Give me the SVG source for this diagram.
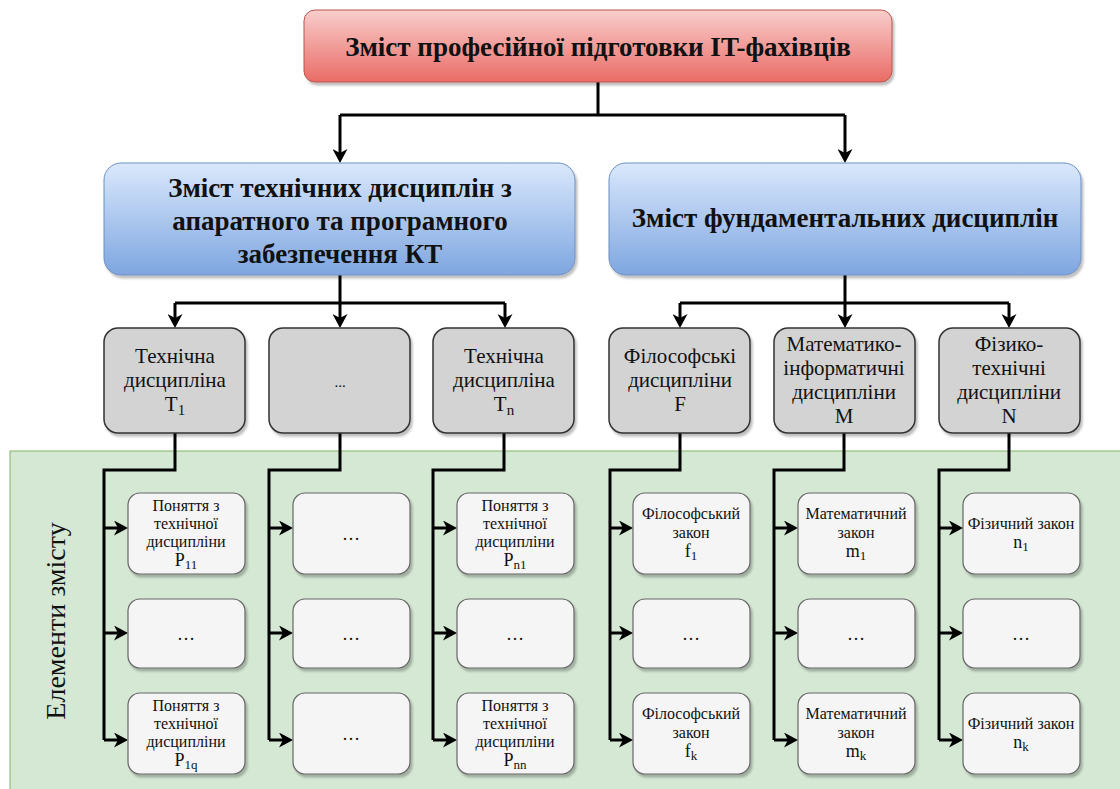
<svg xmlns="http://www.w3.org/2000/svg" width="1120" height="789" viewBox="0 0 1120 789">
<defs>
<linearGradient id="red" x1="0" y1="0" x2="0" y2="1"><stop offset="0" stop-color="#f8cecc"/><stop offset="1" stop-color="#ea6b66"/></linearGradient>
<linearGradient id="blue" x1="0" y1="0" x2="0" y2="1"><stop offset="0" stop-color="#dae8fc"/><stop offset="1" stop-color="#7ea6e0"/></linearGradient>
<filter id="sh" x="-10%" y="-10%" width="130%" height="130%"><feDropShadow dx="2" dy="3" stdDeviation="1.2" flood-color="#000" flood-opacity="0.25"/></filter>
<marker id="arr" markerUnits="userSpaceOnUse" markerWidth="14" markerHeight="15" viewBox="0 0 14 15" refX="4" refY="7.5" orient="auto"><path d="M0,0 L14,7.5 L0,15 L4,7.5 Z" fill="#000"/></marker>
<rect id="gbox" width="141" height="105" rx="14" fill="#d3d3d3" stroke="#333333" stroke-width="1.5" filter="url(#sh)"/>
<rect id="lbox" width="117" height="81" rx="12" fill="#f5f5f5" stroke="#666666" stroke-width="1.2" filter="url(#sh)"/>
<rect id="lboxm" width="117" height="69" rx="12" fill="#f5f5f5" stroke="#666666" stroke-width="1.2" filter="url(#sh)"/>
</defs>
<g id="zone">
<rect x="10" y="451" width="1120" height="350" fill="#d5e8d4" stroke="#82b366" stroke-width="1"/>
<text font-family="'Liberation Serif', serif" font-size="28" fill="#111" text-anchor="middle" transform="translate(65,621) rotate(-90)">Елементи змісту</text>
</g>
<g id="connectors" fill="none" stroke="#000" stroke-width="3">
<path d="M598,82 V115 M340,115 H845"/>
<path d="M340,115 V153" marker-end="url(#arr)"/>
<path d="M845,115 V153" marker-end="url(#arr)"/>
<path d="M340,275 V303 M175,303 H505 M680,303 H1009 M845,275 V303"/>
<g marker-end="url(#arr)">
<path d="M175,303 V318"/><path d="M340,303 V318"/><path d="M505,303 V318"/>
<path d="M680,303 V318"/><path d="M845,303 V318"/><path d="M1009,303 V318"/>
</g>
<path d="M175,433 V470 H104 V740"/>
<path d="M340,433 V470 H269 V740"/>
<path d="M504,433 V470 H433 V740"/>
<path d="M680,433 V470 H610 V740"/>
<path d="M844,433 V470 H774 V740"/>
<path d="M1009,433 V470 H939 V740"/>
<g marker-end="url(#arr)">
<path d="M104,528 H118"/><path d="M104,633 H118"/><path d="M104,740 H118"/>
<path d="M269,528 H283"/><path d="M269,633 H283"/><path d="M269,740 H283"/>
<path d="M433,528 H447"/><path d="M433,633 H447"/><path d="M433,740 H447"/>
<path d="M610,528 H623"/><path d="M610,633 H623"/><path d="M610,740 H623"/>
<path d="M774,528 H788"/><path d="M774,633 H788"/><path d="M774,740 H788"/>
<path d="M939,528 H953"/><path d="M939,633 H953"/><path d="M939,740 H953"/>
</g>
</g>
<g id="nodes" font-family="'Liberation Serif', serif" fill="#111" text-anchor="middle">
<g id="root" font-weight="bold" font-size="27">
<rect x="304" y="10" width="588" height="72" rx="11" fill="url(#red)" stroke="#b85450" stroke-width="1" filter="url(#sh)"/>
<text x="598" y="56">Зміст професійної підготовки IT-фахівців</text>
</g>
<g id="tech" font-weight="bold" font-size="27">
<rect x="104" y="163" width="471" height="112" rx="17" fill="url(#blue)" stroke="#6c8ebf" stroke-width="1" filter="url(#sh)"/>
<text x="340" y="197">Зміст технічних дисциплін з</text>
<text x="340" y="230">апаратного та програмного</text>
<text x="340" y="263">забезпечення КТ</text>
</g>
<g id="fund" font-weight="bold" font-size="27">
<rect x="609" y="163" width="472" height="112" rx="17" fill="url(#blue)" stroke="#6c8ebf" stroke-width="1" filter="url(#sh)"/>
<text x="845" y="227">Зміст фундаментальних дисциплін</text>
</g>
<g id="t1" font-size="21">
<use href="#gbox" x="104" y="328"/>
<text x="175" y="363">Технічна</text>
<text x="175" y="387">дисципліна</text>
<text x="175" y="411">T<tspan font-size="15" dy="4">1</tspan></text>
</g>
<g id="tdots" font-size="15">
<use href="#gbox" x="269" y="328"/>
<text x="340" y="387">...</text>
</g>
<g id="tn" font-size="21">
<use href="#gbox" x="433" y="328"/>
<text x="504" y="363">Технічна</text>
<text x="504" y="387">дисципліна</text>
<text x="504" y="411">T<tspan font-size="15" dy="4">n</tspan></text>
</g>
<g id="f" font-size="21">
<use href="#gbox" x="609" y="328"/>
<text x="680" y="363">Філософські</text>
<text x="680" y="387">дисципліни</text>
<text x="680" y="411">F</text>
</g>
<g id="m" font-size="21">
<use href="#gbox" x="774" y="328"/>
<text x="844" y="351">Математико-</text>
<text x="844" y="375">інформатичні</text>
<text x="844" y="399">дисципліни</text>
<text x="844" y="423">M</text>
</g>
<g id="n" font-size="21">
<use href="#gbox" x="939" y="328"/>
<text x="1009" y="351">Фізико-</text>
<text x="1009" y="375">технічні</text>
<text x="1009" y="399">дисципліни</text>
<text x="1009" y="423">N</text>
</g>
<g id="p11" font-size="16">
<use href="#lbox" x="128" y="493"/>
<text x="186" y="511">Поняття з</text>
<text x="186" y="529">технічної</text>
<text x="186" y="547">дисципліни</text>
<text x="186" y="566" font-size="18">P<tspan font-size="13" dy="3">11</tspan></text>
</g>
<g id="p1dots" font-size="18">
<use href="#lboxm" x="128" y="599"/>
<text x="186" y="640">…</text>
</g>
<g id="p1q" font-size="16">
<use href="#lbox" x="128" y="693"/>
<text x="186" y="711">Поняття з</text>
<text x="186" y="729">технічної</text>
<text x="186" y="747">дисципліни</text>
<text x="186" y="766" font-size="18">P<tspan font-size="13" dy="3">1q</tspan></text>
</g>
<g id="c2r1" font-size="18">
<use href="#lbox" x="293" y="493"/>
<text x="351" y="540">…</text>
</g>
<g id="c2r2" font-size="18">
<use href="#lboxm" x="293" y="599"/>
<text x="351" y="640">…</text>
</g>
<g id="c2r3" font-size="18">
<use href="#lbox" x="293" y="693"/>
<text x="351" y="740">…</text>
</g>
<g id="pn1" font-size="16">
<use href="#lbox" x="457" y="493"/>
<text x="515" y="511">Поняття з</text>
<text x="515" y="529">технічної</text>
<text x="515" y="547">дисципліни</text>
<text x="515" y="566" font-size="18">P<tspan font-size="13" dy="3">n1</tspan></text>
</g>
<g id="pndots" font-size="18">
<use href="#lboxm" x="457" y="599"/>
<text x="515" y="640">…</text>
</g>
<g id="pnn" font-size="16">
<use href="#lbox" x="457" y="693"/>
<text x="515" y="711">Поняття з</text>
<text x="515" y="729">технічної</text>
<text x="515" y="747">дисципліни</text>
<text x="515" y="766" font-size="18">P<tspan font-size="13" dy="3">nn</tspan></text>
</g>
<g id="f1" font-size="16">
<use href="#lbox" x="633" y="493"/>
<text x="691" y="519">Філософський</text>
<text x="691" y="538">закон</text>
<text x="691" y="557" font-size="18">f<tspan font-size="13" dy="3">1</tspan></text>
</g>
<g id="fdots" font-size="18">
<use href="#lboxm" x="633" y="599"/>
<text x="691" y="640">…</text>
</g>
<g id="fk" font-size="16">
<use href="#lbox" x="633" y="693"/>
<text x="691" y="719">Філософський</text>
<text x="691" y="738">закон</text>
<text x="691" y="757" font-size="18">f<tspan font-size="13" dy="3">k</tspan></text>
</g>
<g id="m1" font-size="16">
<use href="#lbox" x="798" y="493"/>
<text x="856" y="519">Математичний</text>
<text x="856" y="538">закон</text>
<text x="856" y="557" font-size="18">m<tspan font-size="13" dy="3">1</tspan></text>
</g>
<g id="mdots" font-size="18">
<use href="#lboxm" x="798" y="599"/>
<text x="856" y="640">…</text>
</g>
<g id="mk" font-size="16">
<use href="#lbox" x="798" y="693"/>
<text x="856" y="719">Математичний</text>
<text x="856" y="738">закон</text>
<text x="856" y="757" font-size="18">m<tspan font-size="13" dy="3">k</tspan></text>
</g>
<g id="n1" font-size="16">
<use href="#lbox" x="963" y="493"/>
<text x="1021" y="529">Фізичний закон</text>
<text x="1021" y="548" font-size="18">n<tspan font-size="13" dy="3">1</tspan></text>
</g>
<g id="ndots" font-size="18">
<use href="#lboxm" x="963" y="599"/>
<text x="1021" y="640">…</text>
</g>
<g id="nk" font-size="16">
<use href="#lbox" x="963" y="693"/>
<text x="1021" y="729">Фізичний закон</text>
<text x="1021" y="748" font-size="18">n<tspan font-size="13" dy="3">k</tspan></text>
</g>
</g>
</svg>
